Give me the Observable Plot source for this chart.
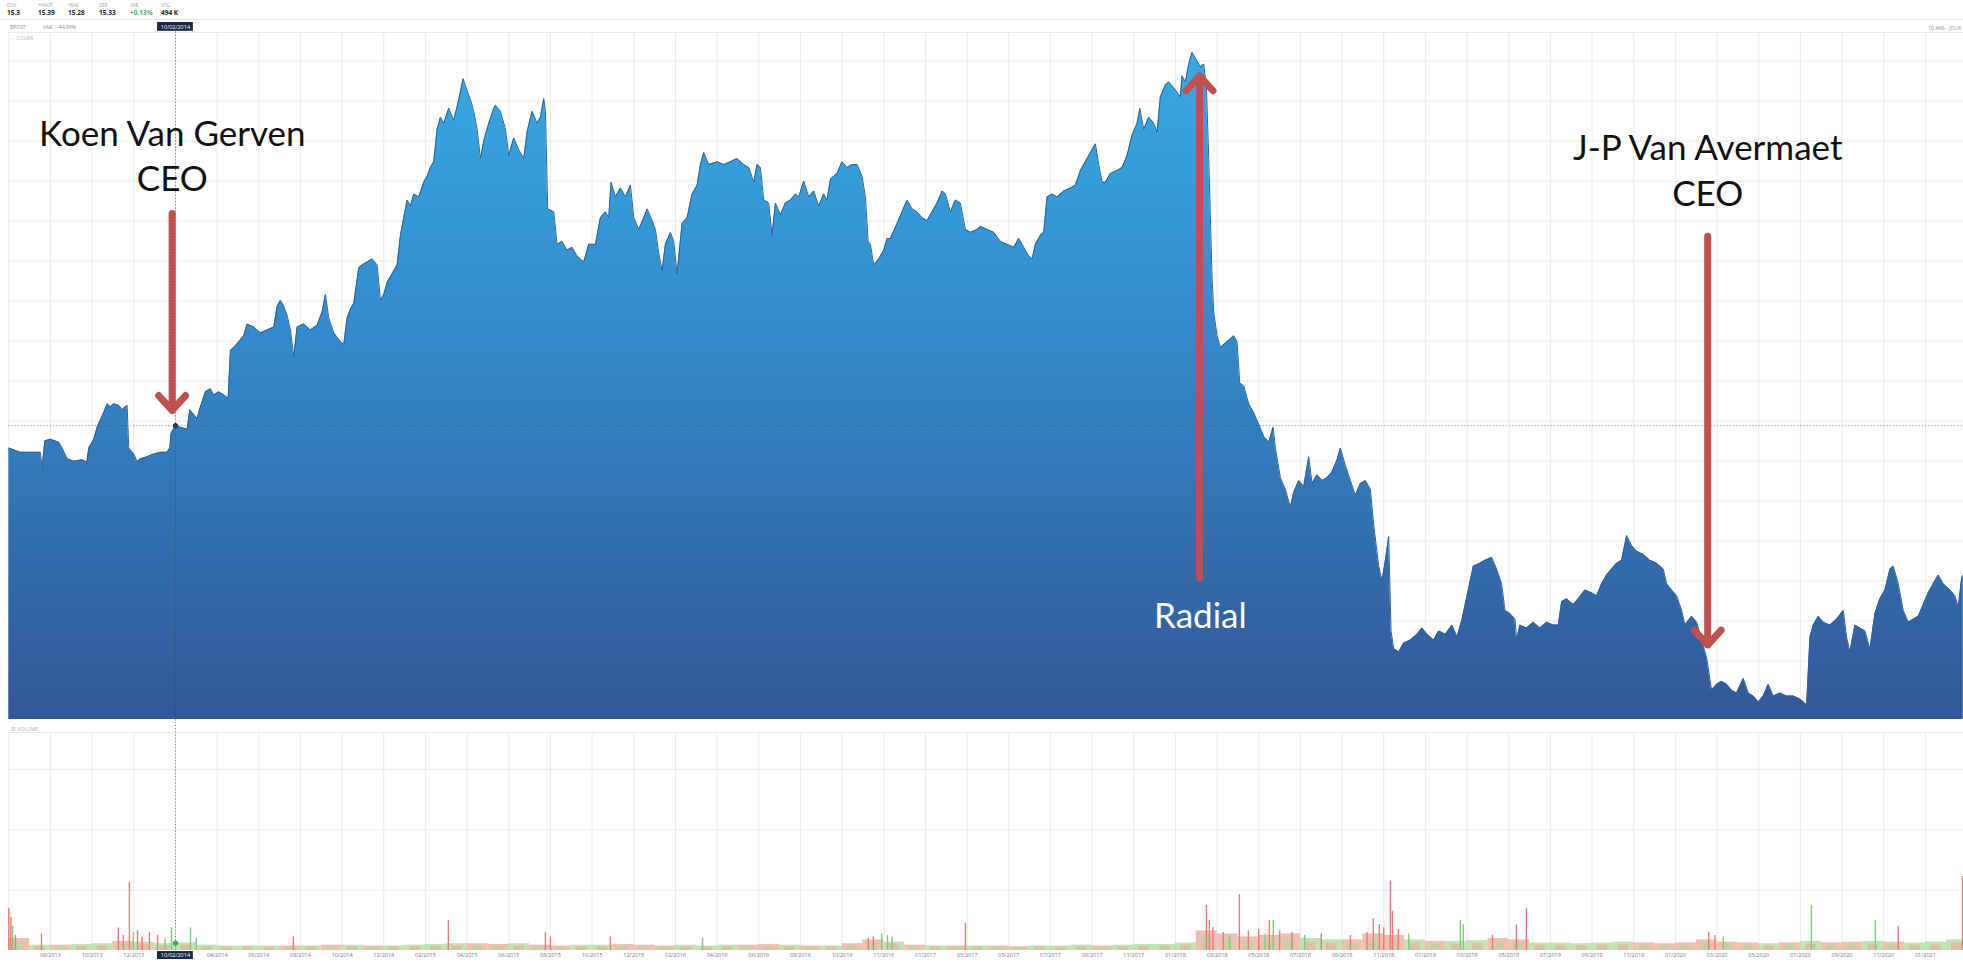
<!DOCTYPE html>
<html>
<head>
<meta charset="utf-8">
<script src="https://cdn.jsdelivr.net/npm/d3@7"></script>
<script src="https://cdn.jsdelivr.net/npm/@observablehq/plot@0.6"></script>
<style>
  html, body { margin: 0; padding: 0; background: #fff; }
  #wrap { position: relative; width: 1963px; height: 966px; overflow: hidden; font-family: "Open Sans", sans-serif; }
  .it { position: absolute; top: 2px; }
  .lb { font-size: 4.5px; color: #a0a0a0; line-height: 6px; }
  .vl { font-size: 6.5px; color: #222; font-weight: 700; line-height: 9px; }
  #sep { position: absolute; left: 0; top: 19px; width: 1963px; height: 1px; background: #e6e6e6; }
  .sm { position: absolute; font-size: 5px; color: #8a8a8a; line-height: 6px; white-space: nowrap; }
  #prix { position: absolute; left: 0; top: 20px; }
  #vol { position: absolute; left: 0; top: 722px; }
</style>
</head>
<body>
<div id="wrap">
  <div class="it" style="left:7px"><div class="lb">OUV.</div><div class="vl">15.3</div></div>
  <div class="it" style="left:38px"><div class="lb">+HAUT</div><div class="vl">15.39</div></div>
  <div class="it" style="left:68px"><div class="lb">+BAS</div><div class="vl">15.28</div></div>
  <div class="it" style="left:99px"><div class="lb">DER.</div><div class="vl">15.33</div></div>
  <div class="it" style="left:130px"><div class="lb">VAR.</div><div class="vl" style="color:#3cb371">+0.13%</div></div>
  <div class="it" style="left:161px"><div class="lb">VOL.</div><div class="vl">494 K</div></div>
  <div id="sep"></div>
  <div class="sm" style="left:10px;top:24px">BPOST</div>
  <div class="sm" style="left:43px;top:24px">VAR. : -44.96%</div>
  <div class="sm" style="right:2px;top:25px">10 ANS - JOUR</div>
  <div class="sm" style="left:11px;top:35px;color:#b0b0b0">&#9675;&nbsp; COURS</div>
  <div class="sm" style="left:11px;top:726px;color:#b0b0b0">&#9746;&nbsp; VOLUME</div>
  <div id="prix"></div>
  <div id="vol"></div>
</div>
<script>
// ---- Cours (position sur l'axe en mois depuis 06/2013, cours en EUR) ----
const coursA = [[0,14.49],[0.56,14.33],[1.52,14.33],[1.6,13.72],[1.73,14.76],[2.0,14.82],[2.4,14.71],[2.56,14.49],[2.8,14.09],[3.12,14.0],[3.52,14.05],[3.68,14.0],[3.73,13.87],[3.84,14.49],[4.08,14.82],[4.24,15.27],[4.56,15.82],[4.72,16.15],[4.88,16.04],[5.04,16.15],[5.28,16.09],[5.44,15.93],[5.6,16.04],[5.68,16.09],[5.76,14.49],[6.0,14.27],[6.16,13.98],[6.32,14.09],[6.64,14.16],[6.96,14.27],[7.28,14.33],[7.6,14.33],[7.73,14.49],[7.79,15.05],[8.0,15.33],[8.24,15.27],[8.56,15.2],[8.69,15.93],[8.8,15.82],[9.04,15.6],[9.2,16.04],[9.44,16.6],[9.68,16.71],[9.84,16.48],[10.08,16.6],[10.32,16.48],[10.53,16.37],[10.64,18.15],[10.8,18.26],[11.04,18.48],[11.28,18.7],[11.44,19.14],[11.76,19.03],[12.08,18.81],[12.4,18.92],[12.72,19.03],[12.88,19.8],[13.04,20.03],[13.2,19.8],[13.36,19.47],[13.52,18.92],[13.68,17.92],[13.84,19.03],[14.16,19.14],[14.48,18.92],[14.8,19.1],[15.04,19.59],[15.2,20.25],[15.36,19.37],[15.6,18.81],[15.92,18.48],[16.08,18.37],[16.24,19.37],[16.4,19.7],[16.56,19.92],[16.8,21.25],[16.96,21.36],[17.2,21.47],[17.44,21.58],[17.68,21.36],[17.84,20.03],[18.0,20.25],[18.16,20.69],[18.4,21.03],[18.64,21.36],[18.8,22.47],[18.96,23.13],[19.12,23.79],[19.28,23.57],[19.44,24.02],[19.68,23.91],[19.92,24.46],[20.08,24.68],[20.24,25.01],[20.4,25.23],[20.56,26.45],[20.72,26.9],[20.88,26.67],[21.12,27.23],[21.36,26.78],[21.6,27.56],[21.81,28.34],[22.0,27.89],[22.16,27.56],[22.32,27.12],[22.48,26.45],[22.64,25.35],[22.8,26.01],[23.04,26.67],[23.28,27.23]];
const coursB = [[23.36,27.34],[23.6,27.12],[23.84,26.45],[24.0,25.46],[24.24,26.12],[24.48,25.68],[24.72,25.35],[24.88,26.34],[25.12,27.12],[25.36,26.67],[25.52,26.9],[25.68,27.6],[25.76,27.12],[25.87,23.46],[26.16,23.35],[26.32,22.13],[26.56,22.24],[26.8,21.91],[27.04,22.02],[27.28,21.69],[27.6,21.47],[27.84,22.13],[28.16,22.13],[28.4,23.13],[28.64,23.35],[28.8,23.13],[28.91,24.46],[29.12,23.91],[29.36,24.24],[29.6,23.91],[29.84,24.35],[30.0,23.13],[30.24,22.69],[30.48,23.13],[30.64,23.46],[30.88,23.02],[31.04,22.69],[31.2,21.8],[31.36,21.14],[31.52,22.13],[31.76,22.58],[31.92,22.24],[32.08,21.03],[32.32,22.91],[32.56,23.13],[32.8,24.02],[33.04,24.35],[33.2,25.12],[33.36,25.57],[33.6,25.12],[34.0,25.23],[34.32,25.12],[34.64,25.23],[34.96,25.35],[35.28,25.12],[35.52,25.01],[35.76,24.46],[35.92,25.12],[36.08,25.01],[36.24,23.79],[36.48,23.68],[36.64,22.47],[36.8,23.68],[37.04,23.24],[37.28,23.68],[37.52,23.79],[37.76,24.02],[37.92,23.91],[38.16,24.5],[38.4,23.91],[38.64,24.13],[38.88,23.57],[39.12,24.02],[39.28,23.79],[39.44,24.57],[39.76,24.79],[40.0,25.23],[40.24,25.01],[40.48,25.12],[40.72,25.12],[40.96,24.68],[41.12,23.91],[41.25,22.24],[41.36,22.13],[41.52,21.36],[41.76,21.58],[42.0,21.91],[42.16,22.35],[42.32,22.35],[42.64,22.91],[42.88,23.35],[43.12,23.79],[43.36,23.46],[43.6,23.35],[43.84,23.13],[44.08,23.02],[44.32,23.35],[44.56,23.68],[44.8,24.13],[44.96,24.02],[45.2,23.35],[45.44,23.79],[45.68,23.68],[45.92,22.69],[46.16,22.58],[46.48,22.69]];
const coursC = [[46.64,22.8],[46.96,22.69],[47.28,22.58],[47.6,22.24],[47.92,22.13],[48.24,22.02],[48.48,22.35],[48.72,22.02],[48.96,21.69],[49.12,21.58],[49.28,22.13],[49.52,22.47],[49.68,22.58],[49.84,23.91],[50.08,24.02],[50.32,23.91],[50.64,24.13],[50.96,24.24],[51.2,24.35],[51.44,24.9],[51.76,25.35],[52.0,25.68],[52.16,25.9],[52.32,25.12],[52.48,24.46],[52.64,24.46],[52.88,24.79],[53.2,24.9],[53.44,25.01],[53.68,25.46],[53.92,26.23],[54.16,26.67],[54.29,27.23],[54.48,26.45],[54.72,26.9],[54.96,26.67],[55.12,26.34],[55.28,27.67],[55.52,28.11],[55.68,28.22],[55.92,28.0],[56.24,27.67],[56.32,28.45],[56.48,28.22],[56.64,28.89],[56.8,29.33],[57.04,29.0],[57.2,28.78],[57.36,28.89],[57.49,28.0],[57.6,25.35],[57.68,23.13],[57.76,20.91],[57.84,19.59],[58.0,18.7],[58.16,18.26],[58.48,18.48],[58.8,18.7],[58.96,18.48],[59.09,16.93],[59.28,16.82],[59.52,16.15],[59.76,15.82],[60.0,15.38],[60.24,14.93],[60.48,14.71],[60.69,15.27],[60.8,14.49],[61.04,13.38],[61.28,12.94],[61.52,12.27],[61.68,12.83],[61.92,13.27],[62.16,13.05],[62.4,14.16],[62.56,13.16],[62.8,13.49],[63.04,13.27],[63.28,13.38],[63.52,13.6],[63.76,14.05],[63.92,14.49],[64.16,13.83],[64.4,13.27],[64.64,12.72],[64.88,13.16],[65.12,13.27],[65.36,12.94],[65.52,11.61],[65.76,10.06],[65.92,9.51],[66.08,10.28],[66.24,11.17],[66.35,7.63],[66.48,6.96],[66.72,6.85],[66.96,7.18],[67.28,7.29],[67.6,7.51],[67.84,7.74],[68.08,7.51],[68.4,7.29],[68.64,7.63],[68.96,7.51],[69.28,7.85],[69.52,7.4],[69.76,8.07]];
const coursD = [[70.06,9.17],[70.3,10.06],[70.62,10.17],[70.86,10.28],[71.18,10.39],[71.42,9.95],[71.66,9.4],[71.82,8.4],[72.06,8.29],[72.3,8.07],[72.38,7.29],[72.54,7.85],[72.86,7.74],[73.18,7.96],[73.5,7.74],[73.82,7.96],[74.14,7.85],[74.38,7.85],[74.54,8.73],[74.78,8.84],[75.1,8.62],[75.34,8.84],[75.66,9.17],[75.98,9.06],[76.22,8.95],[76.46,9.4],[76.7,9.73],[76.94,9.95],[77.18,10.17],[77.42,10.28],[77.66,11.21],[77.9,10.83],[78.14,10.62],[78.46,10.5],[78.78,10.28],[79.1,10.17],[79.42,9.95],[79.58,9.4],[79.82,9.17],[80.06,8.95],[80.3,8.4],[80.46,7.85],[80.78,8.18],[81.02,7.96],[81.26,7.29],[81.5,6.63],[81.74,5.41],[81.98,5.63],[82.22,5.74],[82.46,5.63],[82.7,5.41],[82.94,5.3],[83.26,5.85],[83.5,5.3],[83.74,5.19],[83.98,4.97],[84.22,5.19],[84.46,5.63],[84.7,5.19],[85.02,5.3],[85.34,5.19],[85.66,5.19],[85.98,5.08],[86.3,4.86],[86.46,7.4],[86.62,7.85],[86.86,8.18],[87.1,7.96],[87.42,7.85],[87.74,8.07],[88.06,8.4],[88.22,7.4],[88.38,6.85],[88.62,7.85],[88.86,7.74],[89.1,7.63],[89.34,6.96],[89.58,8.29],[89.82,8.84],[90.06,9.17],[90.3,9.95],[90.46,10.06],[90.7,9.4],[90.94,8.4],[91.18,7.96],[91.42,8.07],[91.66,8.18],[91.9,8.62],[92.14,9.06],[92.38,9.4],[92.62,9.73],[92.86,9.4],[93.18,9.17],[93.42,8.95],[93.58,8.51],[93.74,9.62],[93.82,9.73]];

// ---- Volume (millions de titres) ----
const volBase = [0.8,0.35,0.35,0.4,0.45,0.6,0.55,
  0.45,0.5,0.35,0.3,0.3,0.3,0.3,0.3,0.35,0.35,0.3,0.3,
  0.35,0.4,0.45,0.45,0.4,0.45,0.35,0.3,0.35,0.35,0.4,0.35,
  0.3,0.35,0.3,0.35,0.35,0.4,0.35,0.3,0.3,0.45,0.7,0.55,
  0.35,0.3,0.3,0.3,0.3,0.25,0.3,0.3,0.35,0.3,0.35,0.4,
  0.4,0.5,1.3,1.1,0.9,1.0,1.1,0.8,0.7,0.7,1.1,1.0,
  0.7,0.6,0.6,0.65,0.8,0.7,0.5,0.5,0.45,0.5,0.55,0.5,
  0.45,0.5,0.7,0.55,0.5,0.45,0.5,0.6,0.5,0.55,0.6,0.55,
  0.5,0.55,0.7];
const volPics = [[0.0,2.8,"r"],[0.1,2.2,"r"],[0.18,1.6,"g"],[0.32,1.0,"r"],[1.57,1.1,"r"],[5.26,1.5,"r"],[5.5,1.0,"r"],[5.79,4.5,"r"],[5.98,1.2,"g"],[6.18,1.3,"r"],[6.4,0.9,"r"],[6.75,1.2,"r"],[7.14,1.0,"r"],[7.5,0.8,"g"],[7.81,1.5,"g"],[8.72,1.5,"g"],[9.0,0.8,"g"],[13.66,0.9,"r"],[21.1,2.0,"r"],[25.76,1.2,"r"],[26.0,0.9,"r"],[28.88,0.9,"r"],[33.3,0.8,"g"],[41.26,0.8,"r"],[41.5,0.9,"r"],[41.9,1.1,"g"],[42.18,1.0,"g"],[42.4,0.9,"g"],[45.92,1.8,"r"],[57.49,3.0,"r"],[57.63,2.0,"r"],[57.8,1.5,"r"],[58.3,1.2,"r"],[58.6,1.0,"g"],[59.07,3.7,"r"],[59.5,1.3,"r"],[60.0,1.4,"r"],[60.3,1.1,"g"],[60.51,2.0,"r"],[60.7,2.0,"g"],[61.0,1.3,"r"],[61.6,1.2,"r"],[62.2,1.0,"g"],[63.0,1.1,"r"],[64.4,1.0,"r"],[65.2,1.2,"r"],[65.5,2.1,"r"],[65.79,1.7,"r"],[66.0,1.5,"r"],[66.32,4.6,"r"],[66.42,2.6,"r"],[66.7,1.4,"r"],[67.2,1.1,"g"],[69.68,2.0,"g"],[69.82,1.7,"g"],[71.22,1.0,"r"],[72.37,1.7,"r"],[72.85,2.8,"r"],[81.6,1.2,"r"],[81.9,1.0,"r"],[82.3,0.9,"g"],[86.53,3.0,"g"],[89.6,2.0,"g"],[90.7,1.6,"r"],[93.78,4.9,"r"]];

// ---- Axe des temps ----
const tickMois = [2,4,6,8,10,12,14,16,18,20,22,24,26,28,30,32,34,36,38,40,42,44,46,48,50,52,54,56,58,60,62,64,66,68,70,72,74,76,78,80,82,84,86,88,90,92];
const tickLabels = ["08/2013","10/2013","12/2013","10/02/2014","04/2014","06/2014","08/2014","10/2014","12/2014","02/2015","04/2015","06/2015","08/2015","10/2015","12/2015","02/2016","04/2016","06/2016","08/2016","10/2016","11/2016","01/2017","03/2017","05/2017","07/2017","09/2017","11/2017","01/2018","03/2018","05/2018","07/2018","09/2018","11/2018","01/2019","03/2019","05/2019","07/2019","09/2019","11/2019","01/2020","03/2020","05/2020","07/2020","09/2020","11/2020","01/2021"];
const gridCours = [29,27.5,26,24.5,23,21.5,20,18.5,17,15.5,14,12.5,11,9.5,8,6.5,5];
const gridVol = [4,8,12];

// ---- Curseur (10/02/2014) ----
const curseurMois = 8;
const curseurCours = 15.33;
const curseurVol = 0.494;
const curseurDate = "10/02/2014";

// ---- Annotations ----
const annotTexte = ["Koen Van Gerven","CEO","Radial","J-P Van Avermaet","CEO"];
const annotMois = [7.85,7.85,57.2,81.55,81.55];
const annotCours = [26.23,24.56,8.18,25.73,23.98];
const annotCouleur = ["#111","#111","#fff","#111","#111"];
const flecheMois = [7.84,57.16,81.55];
const flecheDe = [23.29,9.62,22.43];
const flecheA = [15.9,28.45,7.1];

const W = 1963;
const xDomain = [0, 93.83];
const yDomain = [4.31, 30.075];
const volDomain = [0, 14.44];

const serie = [...coursA, ...coursB, ...coursC, ...coursD].map(([m, p]) => ({m, p}));
const annots = annotTexte.map((t, i) => ({t, m: annotMois[i], p: annotCours[i], c: annotCouleur[i]}));
const fleches = flecheMois.map((m, i) => ({m, p1: flecheDe[i], p2: flecheA[i]}));
// direction of the month (price at month end vs month start) colours the base volume
const prixA = (t) => { let v = serie[0].p; for (const d of serie) { if (d.m <= t) v = d.p; else break; } return v; };
const vbase = volBase.map((v, i) => ({m: i, v, up: prixA(i + 1) >= prixA(i)}));
const vpics = volPics.map(([m, v, d]) => ({m, v, d}));
const ticks = tickMois.map((m, i) => ({m, t: tickLabels[i]}));

const gradient = () => {
  const defs = d3.create("svg:defs");
  const g = defs.append("linearGradient").attr("id", "gradCours")
    .attr("gradientUnits", "userSpaceOnUse").attr("x1", 0).attr("x2", 0).attr("y1", 12).attr("y2", 699);
  g.append("stop").attr("offset", "0%").attr("stop-color", "#37ade5");
  g.append("stop").attr("offset", "45%").attr("stop-color", "#3389c9");
  g.append("stop").attr("offset", "100%").attr("stop-color", "#325797");
  return defs.node();
};

const prix = Plot.plot({
  width: W, height: 702,
  marginTop: 12, marginBottom: 3, marginLeft: 8.3, marginRight: 0,
  x: {domain: xDomain, axis: null},
  y: {domain: yDomain, axis: null},
  style: {background: "transparent", fontFamily: "Open Sans, sans-serif"},
  marks: [
    gradient,
    Plot.ruleY([...gridCours, yDomain[1]], {stroke: "#ebebeb", strokeWidth: 1}),
    Plot.ruleX([0, ...tickMois], {stroke: "#ebebeb", strokeWidth: 1}),
    Plot.areaY(serie, {x: "m", y1: yDomain[0], y2: "p", fill: "url(#gradCours)"}),
    Plot.lineY(serie, {x: "m", y: "p", stroke: "#2c62a0", strokeWidth: 1}),
    Plot.ruleY([curseurCours], {stroke: "#444", strokeOpacity: 0.7, strokeWidth: 0.8, strokeDasharray: "1.2,2"}),
    Plot.ruleX([curseurMois], {y1: 30.1, y2: 4.2, stroke: "#444", strokeOpacity: 0.8, strokeWidth: 0.8, strokeDasharray: "1.2,2"}),
    Plot.dot([{m: curseurMois, p: curseurCours}], {x: "m", y: "p", r: 2.6, fill: "#1b3c69"}),
    Plot.rect([{m: curseurMois}], {x1: d => d.m - 0.86, x2: d => d.m + 0.86, y1: 30.12, y2: 30.45, fill: "#1b2744"}),
    Plot.text([curseurDate], {x: curseurMois, y: 30.285, text: d => d, fill: "#fff", fontSize: 5.5}),
    Plot.arrow(fleches, {x1: "m", x2: "m", y1: "p1", y2: "p2", stroke: "#c0504d", strokeWidth: 7, headLength: 4.3, headAngle: 84, bend: 0}),
    Plot.text(annots, {x: "m", y: "p", text: "t", fill: "c", fontSize: 35, fontFamily: "Lato"})
  ]
});
document.getElementById("prix").appendChild(prix);

const vol = Plot.plot({
  width: W, height: 244,
  marginTop: 10, marginBottom: 16, marginLeft: 8.3, marginRight: 0,
  x: {domain: xDomain, axis: null},
  y: {domain: volDomain, axis: null},
  style: {background: "transparent", fontFamily: "Open Sans, sans-serif"},
  marks: [
    Plot.ruleY([...gridVol, volDomain[1]], {stroke: "#ebebeb", strokeWidth: 1}),
    Plot.ruleX([0, ...tickMois], {stroke: "#ebebeb", strokeWidth: 1}),
    Plot.rectY(vbase, {x1: "m", x2: d => d.m + 1, y: "v", fill: d => d.up ? "#a9d99a" : "#e9a99a", fillOpacity: 0.75}),
    Plot.rectY(vbase, {x1: d => d.m + 0.25, x2: d => d.m + 0.75, y: d => d.v * 0.7, fill: d => d.up ? "#e9a99a" : "#a9d99a", fillOpacity: 0.6}),
    Plot.ruleX(vpics, {x: "m", y1: 0, y2: "v", stroke: d => d.d === "g" ? "#79cf79" : "#ee7777", strokeWidth: 1.4}),
    Plot.ruleX([curseurMois], {y1: 0, y2: 15.1, stroke: "#444", strokeOpacity: 0.8, strokeWidth: 0.8, strokeDasharray: "1.2,2"}),
    Plot.dot([{m: curseurMois, v: curseurVol}], {x: "m", y: "v", r: 2.6, fill: "#31b04a"}),
    Plot.text(ticks.filter(d => d.m !== curseurMois), {x: "m", y: -0.33, text: "t", fill: "#777", fontSize: 5.5}),
    Plot.rect([{m: curseurMois}], {x1: d => d.m - 0.86, x2: d => d.m + 0.86, y1: -0.07, y2: -0.6, fill: "#1b2744"}),
    Plot.text([curseurDate], {x: curseurMois, y: -0.33, text: d => d, fill: "#fff", fontSize: 5.5})
  ]
});
document.getElementById("vol").appendChild(vol);
</script>
</body>
</html>
